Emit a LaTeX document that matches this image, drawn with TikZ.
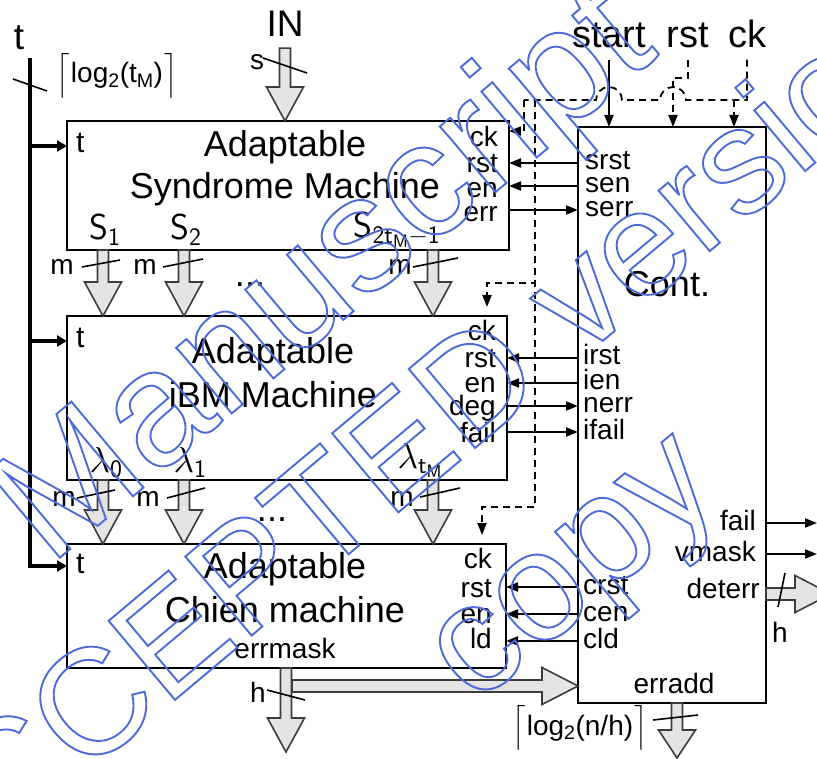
\RequirePackage{fix-cm}
\documentclass[tikz,border=0pt]{standalone}
\usepackage{amsmath}
\usepackage{fontspec}
\setmainfont{Liberation Sans}
\usetikzlibrary{arrows.meta,positioning,calc}

\definecolor{fatfill}{RGB}{228,228,228}
\definecolor{fatline}{RGB}{60,60,60}
\definecolor{wmblue}{RGB}{76,106,216}

\begin{document}
\begin{tikzpicture}[
    x=1pt, y=-1pt,
    box/.style={draw, line width=2.4pt, inner sep=0pt, outer sep=0pt, anchor=north west},
    title/.style={font=\fontsize{36}{40}\selectfont, inner sep=0pt, anchor=base},
    toplab/.style={font=\fontsize{37}{40}\selectfont, inner sep=0pt, anchor=base},
    port/.style={font=\fontsize{28}{30}\selectfont, inner sep=0pt, text height=20pt, text depth=6pt},
    sym/.style={font=\fontsize{36}{40}\selectfont, inner sep=0pt, anchor=base},
    sig/.style={-{Triangle[length=12pt,width=9pt]}, line width=1.8pt},
    dline/.style={line width=1.8pt, dash pattern=on 7pt off 5pt},
    dashsig/.style={sig, dline},
    bus/.style={-{Triangle[length=10pt,width=11pt]}, line width=4pt},
    slash/.style={line width=1.6pt},
    fatdown/.style={fill=fatfill, draw=fatline, line width=1.6pt,
        to path={let \p1=(\tikztostart), \p2=(\tikztotarget) in
        (\x1-5.5pt,\y1) -- (\x1-5.5pt,\y2+#1) -- (\x1-18.5pt,\y2+#1) -- (\x1,\y2)
        -- (\x1+18.5pt,\y2+#1) -- (\x1+5.5pt,\y2+#1) -- (\x1+5.5pt,\y1) -- cycle}},
    fatdown/.default=34pt,
    fatright/.style={fill=fatfill, draw=fatline, line width=1.6pt,
        to path={let \p1=(\tikztostart), \p2=(\tikztotarget) in
        (\x1,\y1+6pt) -- (\x2-#1,\y1+6pt) -- (\x2-#1,\y1+18.5pt) -- (\x2,\y1)
        -- (\x2-#1,\y1-18.5pt) -- (\x2-#1,\y1-6pt) -- (\x1,\y1-6pt) -- cycle}},
    fatright/.default=36pt,
    wm/.style={text=wmblue, inner sep=0pt, anchor=base, rotate=40}
]
\useasboundingbox (0,0) rectangle (817,759);

\node[box, minimum width=442pt, minimum height=129pt] (syn) at (67,121) {};
\node[box, minimum width=440pt, minimum height=164pt, below=66pt of syn.south west, anchor=north west] (ibm) {};
\node[box, minimum width=439pt, minimum height=124pt, below=64pt of ibm.south west, anchor=north west] (chien) {};
\node[box, minimum width=188pt, minimum height=576pt] (ctl) at (578,127) {};

\node[title] (syn-a) at (285,157) {Adaptable};
\node[title] (syn-b) at (285,199) {Syndrome Machine};
\node[title] (ibm-a) at (273,363) {Adaptable};
\node[title] (ibm-b) at (273,407) {iBM Machine};
\node[title] (chien-a) at (285,578) {Adaptable};
\node[title] (chien-b) at (285,622) {Chien machine};
\node[port, anchor=base] (errmask) at (285,658) {errmask};
\node[title] (cont) at (667,297) {Cont.};
\node[port, anchor=base] (erradd) at (674,693) {erradd};

\node[port, anchor=base west, font=\fontsize{30}{32}\selectfont] (syn-t) at (76,153) {t};
\node[port, anchor=base west, font=\fontsize{30}{32}\selectfont] (ibm-t) at (76,348) {t};
\node[port, anchor=base west, font=\fontsize{30}{32}\selectfont] (chien-t) at (76,573) {t};

\foreach \n/\y in {ck/140,rst/166,en/191,err/215}
    \node[port, anchor=east] (syn-\n) at (498,\y) {\n};
\foreach \n/\y in {ck/334,rst/361,en/385,deg/408,fail/435}
    \node[port, anchor=east] (ibm-\n) at (496,\y) {\n};
\foreach \n/\y in {ck/561,rst/590,en/616,ld/641}
    \node[port, anchor=east] (chien-\n) at (492,\y) {\n};
\foreach \n/\y in {srst/163,sen/186,serr/210}
    \node[port, anchor=west] (ctl-\n) at (585,\y) {\n};
\foreach \n/\y in {irst/358,ien/383,nerr/406,ifail/432,crst/587,cen/614,cld/641}
    \node[port, anchor=west] (ctl-\n) at (583,\y) {\n};
\foreach \n/\y in {fail/523,vmask/554}
    \node[port, anchor=east] (ctl-\n) at (756,\y) {\n};
\node[port, anchor=east] (ctl-deterr) at (760,591) {deterr};

\node[sym] (s1) at (105,240) {$\mathsf{S}_{\mathsf{1}}$};
\node[sym] (s2) at (186,240) {$\mathsf{S}_{\mathsf{2}}$};
\node[sym] (s3) at (397,238) {$\mathsf{S}_{\mathsf{2t_M-1}}$};
\node[sym] (l0) at (106,472) {$\lambda_{\mathsf{0}}$};
\node[sym] (l1) at (190,472) {$\lambda_{\mathsf{1}}$};
\node[sym] (l2) at (420,468) {$\lambda_{\mathsf{t_M}}$};
\node[sym] (dots1) at (250,287) {...};
\node[sym] (dots2) at (272,521) {...};

\node[toplab] (tin) at (19,50) {t};
\node[toplab, inner ysep=11pt] (in) at (285,37) {IN};
\node[toplab, inner ysep=11pt, font=\fontsize{38}{40}\selectfont] (start) at (609,48) {start};
\node[toplab, inner ysep=11pt, font=\fontsize{38}{40}\selectfont] (rst) at (688,48) {rst};
\node[toplab, inner ysep=11pt, font=\fontsize{38}{40}\selectfont] (ck) at (747,48) {ck};

\node[port, anchor=base] (logt) at (117,83) {$\left\lceil\rule[-10pt]{0pt}{38pt}\right.$log\textsubscript{2}(t\textsubscript{M})$\left.\rule[-10pt]{0pt}{38pt}\right\rceil$};
\node[port, anchor=base] (logn) at (580,735) {$\left\lceil\rule[-10pt]{0pt}{38pt}\right.$log\textsubscript{2}(n/h)$\left.\rule[-10pt]{0pt}{38pt}\right\rceil$};
\node[port, anchor=base] (sw) at (257,70) {s};
\foreach \n/\x/\y in {m1/62/275,m2/145/275,m3/400/275,m4/64/506,m5/148/506,m6/402/506}
    \node[port, anchor=base] (\n) at (\x,\y) {m};
\node[port, anchor=base] (hw) at (258,702) {h};
\node[port, anchor=base] (hd) at (780,642) {h};

\coordinate (c1) at (103,0);
\coordinate (c2) at (184,0);
\coordinate (c3) at (433,0);
\draw[fatdown] (in.south) to (in.south |- syn.north);
\foreach \c in {c1,c2,c3} {
    \draw[fatdown] (syn.south -| \c) to (ibm.north -| \c);
    \draw[fatdown] (ibm.south -| \c) to (chien.north -| \c);
}
\coordinate (hout) at (286,752);
\draw[fatdown] (chien.south -| hout) to (hout);
\coordinate (errsplit) at (292,686);
\draw[fatright] (errsplit) to (ctl.west |- errsplit);
\coordinate (addout) at (677,758);
\draw[fatdown=28pt] (ctl.south -| addout) to (addout);
\coordinate (detout) at (831,594);
\draw[fatright] (ctl.east |- detout) to (detout);

\draw[slash] (13,79) -- (47,91);
\draw[slash] (263,58) -- (307,73);
\draw[slash] (82,267) -- (120,260);
\draw[slash] (163,267) -- (203,259);
\draw[slash] (413,267) -- (458,258);
\draw[slash] (77,498) -- (115,490);
\draw[slash] (167,498) -- (205,488);
\draw[slash] (420,497) -- (460,488);
\draw[slash] (267,690) -- (305,700);
\draw[slash] (785,573) -- (778,607);
\draw[slash] (653,720) -- (698,715);

\coordinate (bustop) at (30,58);
\draw[bus] (bustop) |- (chien.west |- chien-t);
\draw[bus] (bustop |- syn-t) -- (syn.west |- syn-t);
\draw[bus] (bustop |- ibm-t) -- (ibm.west |- ibm-t);

\coordinate (dbus) at (524,100);
\coordinate (dsplit) at (535,100);
\coordinate (ctlck) at (734,100);
\coordinate (rstin) at (673,78);
\coordinate (ibmckin) at (487,307);
\coordinate (chienckin) at (482,535);
\draw[sig] (start.south) -- (start.south |- ctl.north);
\draw[dline] (ck.south) |- (686,100) arc[start angle=0, end angle=180, radius=13pt]
    -- (622,100) arc[start angle=0, end angle=180, radius=13pt] -- (dbus);
\draw[dashsig] (ctlck) -- (ctlck |- ctl.north);
\draw[dashsig] (rst.south) |- (rstin) -- (rstin |- ctl.north);
\draw[dashsig] (dbus) |- (syn.east |- 0,131);
\draw[dashsig] (dsplit) |- (487,283) -- (ibmckin);
\draw[dashsig] (dsplit) |- (482,507) -- (chienckin);

\draw[sig] (ctl.west |- ctl-srst) -- (syn.east |- ctl-srst);
\draw[sig] (ctl.west |- ctl-sen) -- (syn.east |- ctl-sen);
\draw[sig] (syn.east |- ctl-serr) -- (ctl.west |- ctl-serr);
\draw[sig] (ctl.west |- ctl-irst) -- (ibm.east |- ctl-irst);
\draw[sig] (ctl.west |- ctl-ien) -- (ibm.east |- ctl-ien);
\draw[sig] (ibm.east |- ctl-nerr) -- (ctl.west |- ctl-nerr);
\draw[sig] (ibm.east |- ctl-ifail) -- (ctl.west |- ctl-ifail);
\foreach \n in {crst,cen,cld}
    \draw[sig] (ctl.west |- ctl-\n) -- (chien.east |- ctl-\n);
\coordinate (rightedge) at (817,0);
\draw[sig] (ctl.east |- ctl-fail) -- (rightedge |- ctl-fail);
\draw[sig] (ctl.east |- ctl-vmask) -- (rightedge |- ctl-vmask);

\node[wm, font=\fontsize{163}{170}\selectfont] (wm1) at (355,310)
    {\special{pdf:literal direct 1 Tr 1.9 w}Manuscript\special{pdf:literal direct 0 Tr}};
\node[wm, font=\fontsize{150}{160}\selectfont] (wm2) at (437,480)
    {\special{pdf:literal direct 1 Tr 1.9 w}ACCEPTED version\special{pdf:literal direct 0 Tr}};
\node[wm, font=\fontsize{155}{160}\selectfont] (wm3) at (600,601)
    {\special{pdf:literal direct 1 Tr 1.9 w}copy\special{pdf:literal direct 0 Tr}};
\end{tikzpicture}
\end{document}
